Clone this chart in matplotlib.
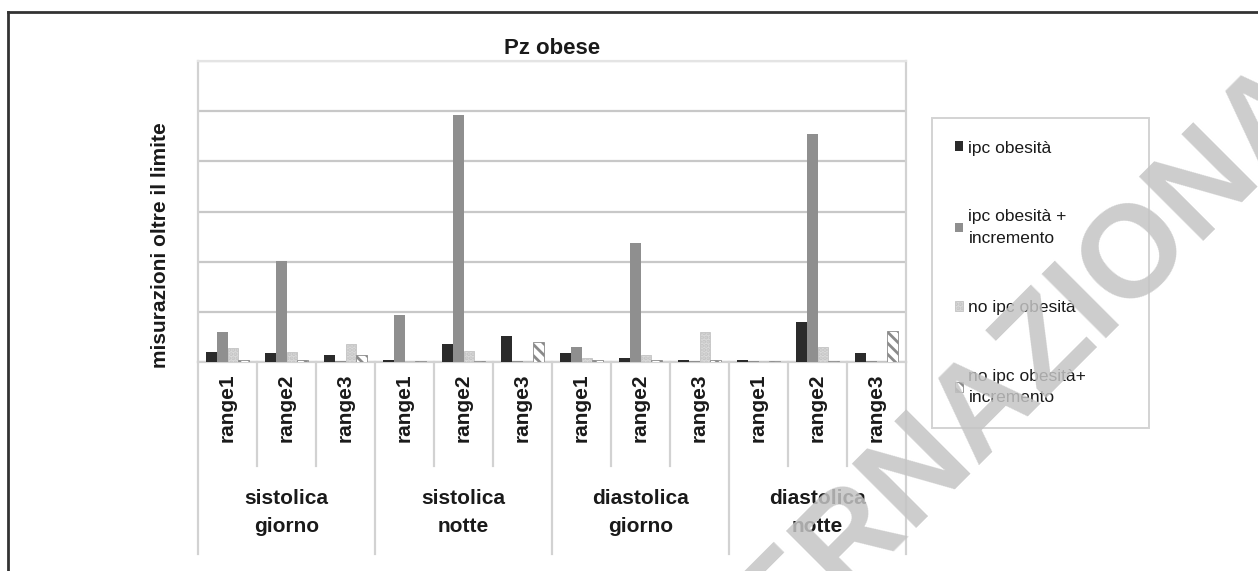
import matplotlib
matplotlib.use("Agg")
import matplotlib.pyplot as plt
from matplotlib.lines import Line2D
import numpy as np

plt.rcParams['font.family'] = ['Liberation Sans', 'DejaVu Sans']
plt.rcParams['hatch.linewidth'] = 2.0

# ---- data ----
groups = ["sistolica\ngiorno", "sistolica\nnotte", "diastolica\ngiorno", "diastolica\nnotte"]
ranges = ["range1", "range2", "range3"]
series_names = ["ipc obesità", "ipc obesità +\nincremento", "no ipc obesità",
                "no ipc obesità+\nincremento"]

ipc_obesita = [2.0, 1.7, 1.3, 0.3, 3.5, 5.2, 1.7, 0.8, 0.3, 0.3, 8.0, 1.8]
ipc_obesita_incr = [5.9, 20.1, 0.2, 9.3, 49.2, 0.1, 3.0, 23.8, 0.2, 0.1, 45.4, 0.1]
no_ipc_obesita = [2.8, 1.9, 3.5, 0.2, 2.2, 0.1, 0.7, 1.3, 5.9, 0.1, 3.0, 0.1]
no_ipc_obesita_incr = [0.3, 0.3, 1.3, 0.2, 0.2, 3.9, 0.3, 0.3, 0.3, 0.1, 0.2, 6.1]

series = [ipc_obesita, ipc_obesita_incr, no_ipc_obesita, no_ipc_obesita_incr]
face = ["#2b2b2b", "#8f8f8f", "#dadada", "#ffffff"]
edge = ["#2b2b2b", "#8f8f8f", "#c4c4c4", "#8a8a8a"]
hatch = [None, None, "....", "\\\\\\"]

W, H = 1258, 571
fig = plt.figure(figsize=(W / 100, H / 100), dpi=100)

def fx(px):
    return px / W

def fy(py):
    return 1 - py / H

# plot area
left, right, top, bottom = 198, 906, 61, 362
ax = fig.add_axes([fx(left), fy(bottom), fx(right - left), fy(top) - fy(bottom)])

n_cat = len(groups) * len(ranges)
x = np.arange(n_cat) + 0.5
bw = 0.185
handles = []
for k, vals in enumerate(series):
    off = (k - 1.5) * bw
    b = ax.bar(x + off, vals, width=bw, color=face[k], edgecolor=edge[k],
               linewidth=0 if hatch[k] is None else 0.6, hatch=hatch[k],
               label=series_names[k], zorder=3)
    handles.append(b)

ax.set_xlim(0, n_cat)
ax.set_ylim(0, 60)
ax.set_yticks(np.arange(0, 61, 10))
ax.yaxis.grid(True, color="#c8c8c8", linewidth=1.6, zorder=0)
ax.set_axisbelow(True)
ax.tick_params(left=False, bottom=False, labelleft=False, labelbottom=False)
for s in ["left", "right", "top", "bottom"]:
    ax.spines[s].set_color("#d2d2d2")
    ax.spines[s].set_linewidth(1.6)
ax.spines["top"].set_color("#e4e4e4")

# category axis: dividers, range labels and group labels
trans = ax.get_xaxis_transform()
span = bottom - top
y_inner_end = -(466 - bottom) / span
y_outer_end = -(554 - bottom) / span
for i in range(n_cat + 1):
    y_end = y_outer_end if i % 3 == 0 else y_inner_end
    ax.add_line(Line2D([i, i], [0, y_end], transform=trans, color="#d2d2d2",
                       linewidth=1.6, clip_on=False))
for i in range(n_cat):
    ax.text(i + 0.5, -(408 - bottom) / span, ranges[i % 3], transform=trans,
            rotation=90, ha="center", va="center", fontsize=15, fontweight="bold",
            color="#1a1a1a")
for g, name in enumerate(groups):
    ax.text(3 * g + 1.5, -(512 - bottom) / span, name, transform=trans,
            ha="center", va="center", fontsize=15, fontweight="bold",
            color="#1a1a1a", linespacing=1.6)

ax.set_title("Pz obese", fontsize=16, fontweight="bold", color="#1a1a1a", pad=5)
fig.text(fx(160), fy(245), "misurazioni oltre il limite", rotation=90, ha="center",
         va="center", fontsize=15, fontweight="bold", color="#1a1a1a")

leg = fig.legend(handles=handles, labels=series_names, loc="upper left",
                 bbox_to_anchor=(fx(932), fy(118), fx(1149 - 932), 0.0001),
                 mode="expand", fontsize=12.5, frameon=True, fancybox=False,
                 edgecolor="#c8c8c8", borderpad=1.3, labelspacing=3.1,
                 handlelength=0.5, handleheight=0.5, handletextpad=0.3,
                 borderaxespad=0)
leg.get_frame().set_linewidth(1.4)
for t in leg.get_texts():
    t.set_color("#1a1a1a")
    t.set_linespacing(1.55)

# outer frame
fig.add_artist(Line2D([fx(8), fx(8)], [fy(11.5), 0], transform=fig.transFigure,
                      color="#333333", linewidth=2))
fig.add_artist(Line2D([fx(8), 1], [fy(11.5), fy(11.5)], transform=fig.transFigure,
                      color="#333333", linewidth=2))

# watermark
fig.text(fx(1015), fy(372), "INTERNAZIONALE", rotation=45, ha="center", va="center",
         fontsize=94, fontweight="bold", color="#c4c4c4", alpha=0.85, zorder=10,
         rotation_mode="anchor")

fig.savefig("out.png", dpi=100)
